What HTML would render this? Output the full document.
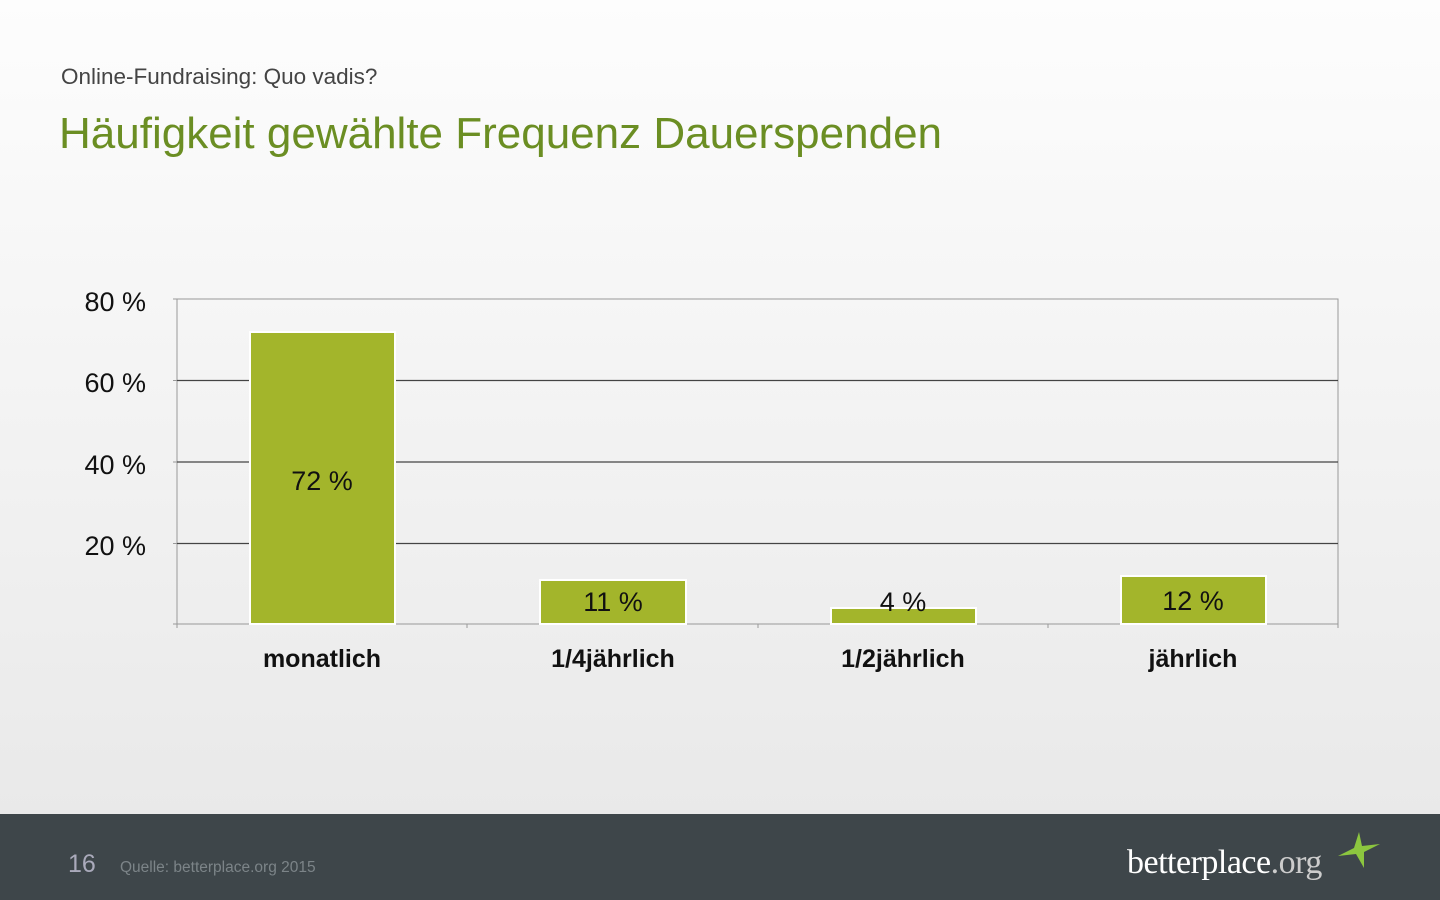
<!DOCTYPE html>
<html><head><meta charset="utf-8"><style>
body{margin:0;width:1440px;height:900px;overflow:hidden;font-family:"Liberation Sans","DejaVu Sans",sans-serif;}
.bg{position:absolute;left:0;top:0;width:1440px;height:814px;background:linear-gradient(#fdfdfd,#e9e9e9);}
.foot{position:absolute;left:0;top:814px;width:1440px;height:86px;background:#3e464a;}
</style></head><body>
<div class="bg"></div>
<div style="position:absolute;left:61px;top:64px;font-size:22.5px;color:#444;">Online-Fundraising: Quo vadis?</div>
<div style="position:absolute;left:59px;top:109px;font-size:44px;color:#6b8e23;">Häufigkeit gewählte Frequenz Dauerspenden</div>
<svg style="position:absolute;left:0;top:0" width="1440" height="814">
<g font-family="Liberation Sans, DejaVu Sans, sans-serif">
<rect x="177" y="299" width="1161" height="325" fill="none" stroke="#999" stroke-width="1"/>
<line x1="177" y1="380.5" x2="1338" y2="380.5" stroke="#444" stroke-width="1.3"/>
<line x1="177" y1="462" x2="1338" y2="462" stroke="#444" stroke-width="1.3"/>
<line x1="177" y1="543.5" x2="1338" y2="543.5" stroke="#444" stroke-width="1.3"/>
<line x1="177" y1="624" x2="1338" y2="624" stroke="#999"/>
<g stroke="#999"><line x1="173" y1="299" x2="177" y2="299"/><line x1="173" y1="380.5" x2="177" y2="380.5"/><line x1="173" y1="462" x2="177" y2="462"/><line x1="173" y1="543.5" x2="177" y2="543.5"/><line x1="173" y1="624" x2="177" y2="624"/>
<line x1="177" y1="624" x2="177" y2="628"/><line x1="467" y1="624" x2="467" y2="628"/><line x1="758" y1="624" x2="758" y2="628"/><line x1="1048" y1="624" x2="1048" y2="628"/><line x1="1338" y1="624" x2="1338" y2="628"/></g>
<g fill="#a3b52b" stroke="#fff" stroke-width="2">
<rect x="250" y="332" width="145" height="292"/>
<rect x="540" y="580" width="146" height="44"/>
<rect x="831" y="608" width="145" height="16"/>
<rect x="1121" y="576" width="145" height="48"/>
</g>
<g font-size="27" fill="#111" text-anchor="end">
<text x="146" y="311">80 %</text><text x="146" y="392">60 %</text><text x="146" y="474">40 %</text><text x="146" y="555">20 %</text>
</g>
<g font-size="27" fill="#111" text-anchor="middle">
<text x="322" y="490">72 %</text><text x="613" y="611">11 %</text><text x="903" y="611">4 %</text><text x="1193" y="610">12 %</text>
</g>
<g font-size="25" font-weight="bold" fill="#111" text-anchor="middle">
<text x="322" y="667">monatlich</text><text x="613" y="667">1/4jährlich</text><text x="903" y="667">1/2jährlich</text><text x="1193" y="667">jährlich</text>
</g>
</g></svg>
<div class="foot">
<div style="position:absolute;left:68px;top:36px;font-size:25px;color:#aab;">16</div>
<div style="position:absolute;left:120px;top:45px;font-size:15.5px;color:#7c8488;">Quelle: betterplace.org 2015</div>
<div style="position:absolute;left:1127px;top:30px;font-size:34px;letter-spacing:-0.5px;color:#fff;font-family:'Liberation Serif',serif;">betterplace<span style="color:#ccc">.org</span></div>
<svg style="position:absolute;left:1336px;top:16px" width="46" height="40"><polygon points="23,2 26,16 44,14 28,22 28,38 20,24 2,26 18,18" fill="#8cc63f"/></svg>
</div>
</body></html>
